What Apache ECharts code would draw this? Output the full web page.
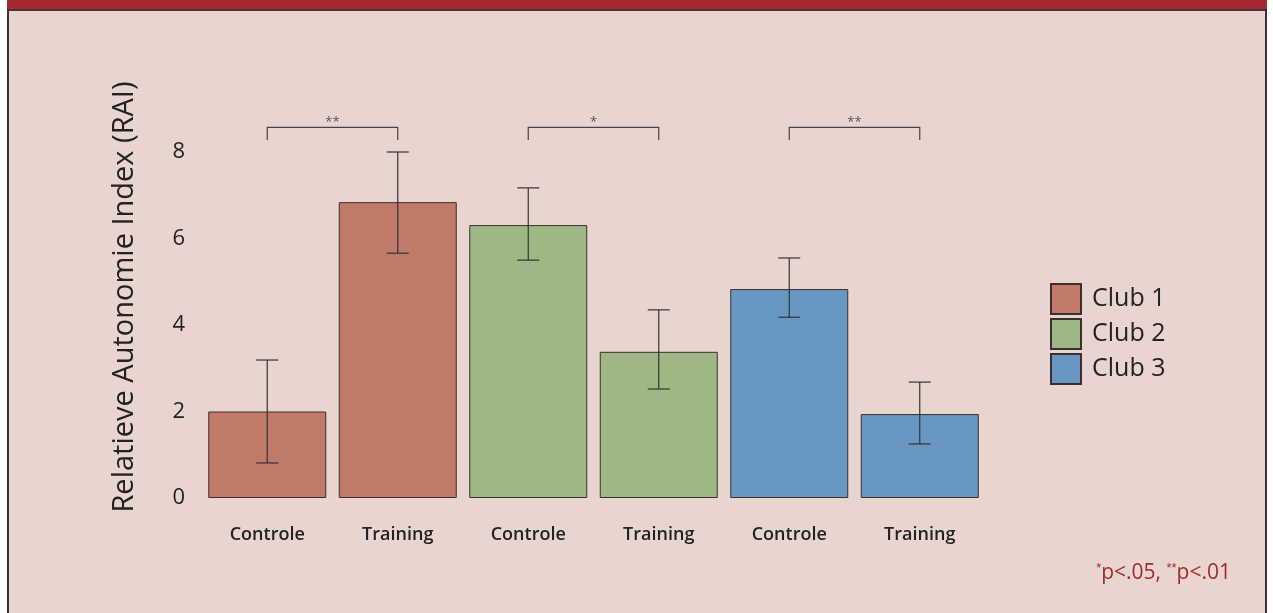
<!DOCTYPE html>
<html>
<head>
<meta charset="utf-8">
<script src="https://cdn.jsdelivr.net/npm/echarts@6/dist/echarts.min.js"></script>
<style>
  html, body { margin: 0; padding: 0; background: #ffffff; }
  #chart { width: 1273px; height: 613px; }
</style>
</head>
<body>
<div id="chart"></div>
<script>
// categories (one per bar) and groups
var categories = ['Controle', 'Training', 'Controle', 'Training', 'Controle', 'Training'];
var clubs = ['Club 1', 'Club 2', 'Club 3'];
var clubOfBar = [0, 0, 1, 1, 2, 2];
var clubColors = ['#c17a68', '#9db883', '#6897c2'];

// mean RAI per bar, with error bar ends
var means = [2.0, 6.84, 6.31, 3.38, 4.83, 1.94];
var errLow = [0.81, 5.66, 5.50, 2.52, 4.18, 1.25];
var errHigh = [3.19, 8.0, 7.17, 4.35, 5.55, 2.68];

// significance brackets: from bar, to bar, label
var bracketFrom = [0, 2, 4];
var bracketTo = [1, 3, 5];
var bracketStars = ['**', '*', '**'];
var bracketLevel = 8.57;
var bracketDrop = 8.28;

var yTicks = [0, 2, 4, 6, 8];

var chartApp = {
    chart: null,
    init: function () {
        this.chart = echarts.init(document.getElementById('chart'));
        this.chart.setOption(this.buildOption());
    },
    buildOption: function () {
        var keys = categories.map(function (c, i) { return c + '|' + i; });
        var series = [];
        clubs.forEach(function (name, k) {
            series.push({
                name: name,
                type: 'bar',
                stack: 'bars',
                barWidth: 118,
                itemStyle: { color: clubColors[k], borderColor: '#3a2e2e', borderWidth: 1 },
                data: means.map(function (v, i) { return clubOfBar[i] === k ? v : '-'; }),
                z: 2
            });
        });
        // error bars
        series.push({
            type: 'custom',
            z: 5,
            silent: true,
            data: means.map(function (v, i) { return [i, errLow[i], errHigh[i]]; }),
            renderItem: function (params, api) {
                var lo = api.coord([api.value(0), api.value(1)]);
                var hi = api.coord([api.value(0), api.value(2)]);
                var x = lo[0], cap = 11;
                var st = { stroke: '#333', lineWidth: 1.2 };
                return {
                    type: 'group',
                    children: [
                        { type: 'line', shape: { x1: x, y1: lo[1], x2: x, y2: hi[1] }, style: st },
                        { type: 'line', shape: { x1: x - cap, y1: lo[1], x2: x + cap, y2: lo[1] }, style: st },
                        { type: 'line', shape: { x1: x - cap, y1: hi[1], x2: x + cap, y2: hi[1] }, style: st }
                    ]
                };
            }
        });
        // significance brackets
        series.push({
            type: 'custom',
            z: 5,
            silent: true,
            clip: false,
            data: bracketFrom.map(function (f, i) { return [f, bracketTo[i]]; }),
            renderItem: function (params, api) {
                var a = api.coord([api.value(0), bracketLevel]);
                var b = api.coord([api.value(1), bracketLevel]);
                var da = api.coord([api.value(0), bracketDrop]);
                return {
                    type: 'group',
                    children: [
                        { type: 'polyline', shape: { points: [[a[0], da[1]], [a[0], a[1]], [b[0], b[1]], [b[0], da[1]]] }, style: { stroke: '#444', lineWidth: 1.2, fill: null } },
                        { type: 'text', style: { text: bracketStars[params.dataIndex], x: (a[0] + b[0]) / 2, y: a[1] + 1, align: 'center', verticalAlign: 'bottom', fill: '#555', font: '13px "Open Sans"' } }
                    ]
                };
            }
        });

        return {
            backgroundColor: '#e9d5d0',
            animation: false,
            textStyle: { fontFamily: 'Open Sans' },
            grid: { left: 202, right: 288, top: 152, bottom: 115 },
            legend: {
                data: clubs,
                orient: 'vertical',
                left: 1045,
                top: 278,
                icon: 'rect',
                itemWidth: 30,
                itemHeight: 30,
                itemGap: 3,
                textStyle: { fontSize: 25, color: '#222', padding: [4, 0, 0, 6] }
            },
            xAxis: {
                type: 'category',
                data: keys,
                axisLine: { show: false },
                axisTick: { show: false },
                axisLabel: {
                    margin: 28,
                    fontSize: 18,
                    fontWeight: 600,
                    color: '#222',
                    formatter: function (v) { return v.split('|')[0]; }
                }
            },
            yAxis: {
                type: 'value',
                min: yTicks[0],
                max: yTicks[yTicks.length - 1],
                interval: 2,
                axisLine: { show: false },
                axisTick: { show: false },
                splitLine: { show: false },
                axisLabel: { margin: 17, fontSize: 22, color: '#222' }
            },
            graphic: [
                { type: 'rect', left: 0, top: 0, shape: { width: 1273, height: 9 }, style: { fill: '#a6292f' } },
                { type: 'rect', left: 0, top: 9, shape: { width: 1273, height: 2 }, style: { fill: '#4a3434' } },
                { type: 'rect', left: 0, top: 0, shape: { width: 7, height: 613 }, style: { fill: '#ffffff' } },
                { type: 'rect', left: 7, top: 9, shape: { width: 2, height: 604 }, style: { fill: '#3a3030' } },
                { type: 'rect', left: 1267, top: 0, shape: { width: 6, height: 613 }, style: { fill: '#ffffff' } },
                { type: 'rect', left: 1265, top: 9, shape: { width: 2, height: 604 }, style: { fill: '#3a3030' } },
                {
                    type: 'text',
                    x: 125, y: 297,
                    rotation: Math.PI / 2,
                    style: {
                        text: 'Relatieve Autonomie Index (RAI)',
                        align: 'center', verticalAlign: 'middle',
                        fill: '#222', font: '500 29px "Open Sans"'
                    }
                },
                {
                    type: 'text',
                    right: 42, top: 562,
                    style: {
                        text: '{s|*}p<.05, {s|**}p<.01',
                        fill: '#a6292f', font: '21px "Open Sans"',
                        rich: { s: { fontSize: 13, fill: '#a6292f', verticalAlign: 'top', padding: [0, 0, 10, 0] } }
                    }
                }
            ],
            series: series
        };
    }
};

chartApp.init();
</script>
</body>
</html>
